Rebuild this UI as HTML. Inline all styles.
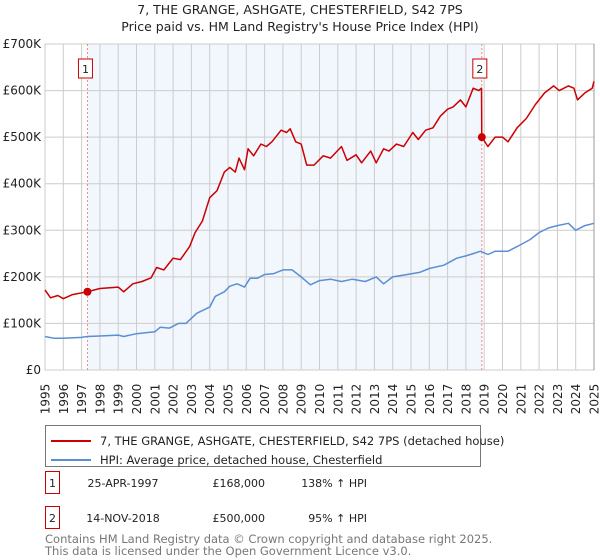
<!DOCTYPE html>
<html><head><meta charset="utf-8"><style>
body{margin:0;background:#fff;font-family:"Liberation Sans","DejaVu Sans",sans-serif;}
#wrap{position:relative;width:600px;height:560px;overflow:hidden}
</style></head><body>
<div id="wrap">
<svg id="chart" width="600" height="560" font-family="DejaVu Sans, Liberation Sans, sans-serif"></svg>
</div>
<script>
const yearTicks=[1995,1996,1997,1998,1999,2000,2001,2002,2003,2004,2005,2006,2007,2008,2009,2010,2011,2012,2013,2014,2015,2016,2017,2018,2019,2020,2021,2022,2023,2024,2025];
const valueTicks=[0,100,200,300,400,500,600,700];
const valueTickLabels=["£0","£100K","£200K","£300K","£400K","£500K","£600K","£700K"];
const redYears=[1995,1995.3,1995.7,1996,1996.5,1997.3,1998,1999,1999.3,1999.8,2000.3,2000.8,2001.1,2001.5,2002,2002.4,2002.9,2003.2,2003.6,2004,2004.4,2004.8,2005.1,2005.4,2005.6,2005.9,2006.1,2006.4,2006.8,2007.1,2007.4,2007.9,2008.2,2008.4,2008.7,2009,2009.3,2009.7,2010.2,2010.6,2011.2,2011.5,2012,2012.3,2012.8,2013.1,2013.5,2013.8,2014.2,2014.6,2015.1,2015.4,2015.8,2016.2,2016.6,2017,2017.3,2017.7,2018,2018.4,2018.7,2018.85,2018.87,2019.2,2019.6,2020,2020.3,2020.8,2021.3,2021.8,2022.3,2022.8,2023.1,2023.6,2023.9,2024.1,2024.5,2024.9,2025];
const redValues=[172,155,160,153,162,168,175,178,168,185,190,198,220,215,240,237,265,295,320,370,385,425,435,425,455,430,475,460,485,480,490,515,510,518,490,485,440,440,460,455,480,450,462,445,470,445,475,470,485,480,510,495,515,520,545,560,565,580,565,605,600,605,500,480,500,500,490,520,540,570,595,610,600,610,605,580,595,605,620];
const hpiYears=[1995,1995.5,1996,1997,1997.3,1998,1999,1999.3,2000,2001,2001.3,2001.8,2002.3,2002.7,2003.3,2004,2004.3,2004.8,2005.1,2005.5,2005.9,2006.2,2006.6,2007,2007.5,2008,2008.5,2009,2009.5,2010,2010.6,2011.2,2011.8,2012.5,2013.1,2013.5,2014,2014.8,2015.5,2016,2016.8,2017.5,2018,2018.4,2018.8,2019.2,2019.6,2020.3,2020.8,2021.5,2022,2022.5,2023,2023.6,2024,2024.5,2025];
const hpiValues=[72,68,68,70,72,73,75,72,78,82,92,90,100,100,122,135,158,168,180,185,178,197,197,205,207,215,215,200,183,192,195,190,195,190,200,185,200,205,210,218,225,240,245,250,255,248,255,255,265,280,295,305,310,315,300,310,315];
const saleYears=[1997.32,2018.87];
const saleValues=[168,500];
const saleLabels=["1","2"];

const NS="http://www.w3.org/2000/svg";
const svg=document.getElementById('chart');
const L=45,R=594,T=44,B=370;
const X=y=>L+(y-1995)/(2025-1995)*(R-L);
const Y=v=>B-v/700*(B-T);
function mk(tag,attrs,parent){const e=document.createElementNS(NS,tag);for(const k in attrs)e.setAttribute(k,attrs[k]);(parent||svg).appendChild(e);return e;}
function txt(s,attrs,parent){const e=mk('text',attrs,parent);e.textContent=s;return e;}

let t=txt("7, THE GRANGE, ASHGATE, CHESTERFIELD, S42 7PS",{x:300,y:14,'text-anchor':'middle','font-size':12.5,fill:'#222'});


t=txt("Price paid vs. HM Land Registry's House Price Index (HPI)",{x:300,y:31,'text-anchor':'middle','font-size':12.5,fill:'#222'});



let r=mk('rect',{x:X(saleYears[0]),y:T,width:X(saleYears[1])-X(saleYears[0]),height:B-T,fill:'#f2f6fd'});



for(const yr of yearTicks){
  let g=mk('line',{x1:X(yr),x2:X(yr),y1:T,y2:B,stroke:'#cccccc','stroke-width':1});
  
  
  let lb=txt(String(yr),{transform:`translate(${X(yr)+4.5},${B+29}) rotate(-90)`,'text-anchor':'middle','font-size':12,fill:'#222'});
  
  
}
valueTicks.forEach((v,i)=>{
  let g=mk('line',{x1:L,x2:R,y1:Y(v),y2:Y(v),stroke:'#cccccc','stroke-width':1});
  
  
  let lb=txt(valueTickLabels[i],{x:L-4,y:Y(v)+4,'text-anchor':'end','font-size':12,fill:'#222'});
  
  
});
let ax=mk('rect',{x:L,y:T,width:R-L,height:B-T,fill:'none',stroke:'#cccccc'});


let re=mk('line',{x1:R,x2:R,y1:T,y2:B,stroke:'#999999','stroke-width':1});



saleYears.forEach((yr,i)=>{
  let d=mk('line',{x1:X(yr),x2:X(yr),y1:T,y2:B,stroke:'#ee8888','stroke-dasharray':'2,2','stroke-width':1});
  
  
  let bx=mk('rect',{x:X(yr)-9,y:59,width:14,height:19,fill:'#fff',stroke:'#cc0000'});
  
  
  let bt=txt(saleLabels[i],{x:X(yr)-2,y:73,'text-anchor':'middle','font-size':11,fill:'#222'});
  
  
});

function path(xs,vs,color,name){
  let d=xs.map((x,i)=>(i?'L':'M')+X(x).toFixed(1)+','+Y(vs[i]).toFixed(1)).join('');
  let p=mk('path',{d:d,fill:'none',stroke:color,'stroke-width':1.5,'stroke-linejoin':'round'});
  
  
}
path(hpiYears,hpiValues,'#5b8fd4','hpi-line');
path(redYears,redValues,'#cc0000','property-price-line');
saleYears.forEach((yr,i)=>{
  let c=mk('circle',{cx:X(yr),cy:Y(saleValues[i]),r:4,fill:'#cc0000'});
  
  
});

let lg=mk('rect',{x:45.5,y:425.5,width:435,height:41,fill:'#fff',stroke:'#777'});


let l1=mk('line',{x1:51,x2:91,y1:441,y2:441,stroke:'#cc0000','stroke-width':2});


t=txt("7, THE GRANGE, ASHGATE, CHESTERFIELD, S42 7PS (detached house)",{x:100,y:445,'font-size':11.5,fill:'#222'});


let l2=mk('line',{x1:51,x2:91,y1:460,y2:460,stroke:'#5b8fd4','stroke-width':2});


t=txt("HPI: Average price, detached house, Chesterfield",{x:100,y:464,'font-size':11.5,fill:'#222'});



const rows=[["1","25-APR-1997","£168,000","138% ↑ HPI",481],["2","14-NOV-2018","£500,000","95% ↑ HPI",516]];
rows.forEach(rw=>{
  let b=mk('rect',{x:45.5,y:rw[4]-9.5,width:14,height:22,fill:'#fff',stroke:'#cc0000'});
  
  
  let a=txt(rw[0],{x:52.5,y:rw[4]+6,'text-anchor':'middle','font-size':11,fill:'#222'});
  
  
  a=txt(rw[1],{x:123,y:rw[4]+6,'text-anchor':'middle','font-size':11,fill:'#222'});
  
  
  a=txt(rw[2],{x:265,y:rw[4]+6,'text-anchor':'end','font-size':11,fill:'#222'});
  
  
  a=txt(rw[3],{x:367,y:rw[4]+6,'text-anchor':'end','font-size':11,fill:'#222'});
  
  
});
t=txt("Contains HM Land Registry data © Crown copyright and database right 2025.",{x:45,y:543,'font-size':11.5,fill:'#777'});


t=txt("This data is licensed under the Open Government Licence v3.0.",{x:45,y:555,'font-size':11.5,fill:'#777'});


</script>
</body></html>
